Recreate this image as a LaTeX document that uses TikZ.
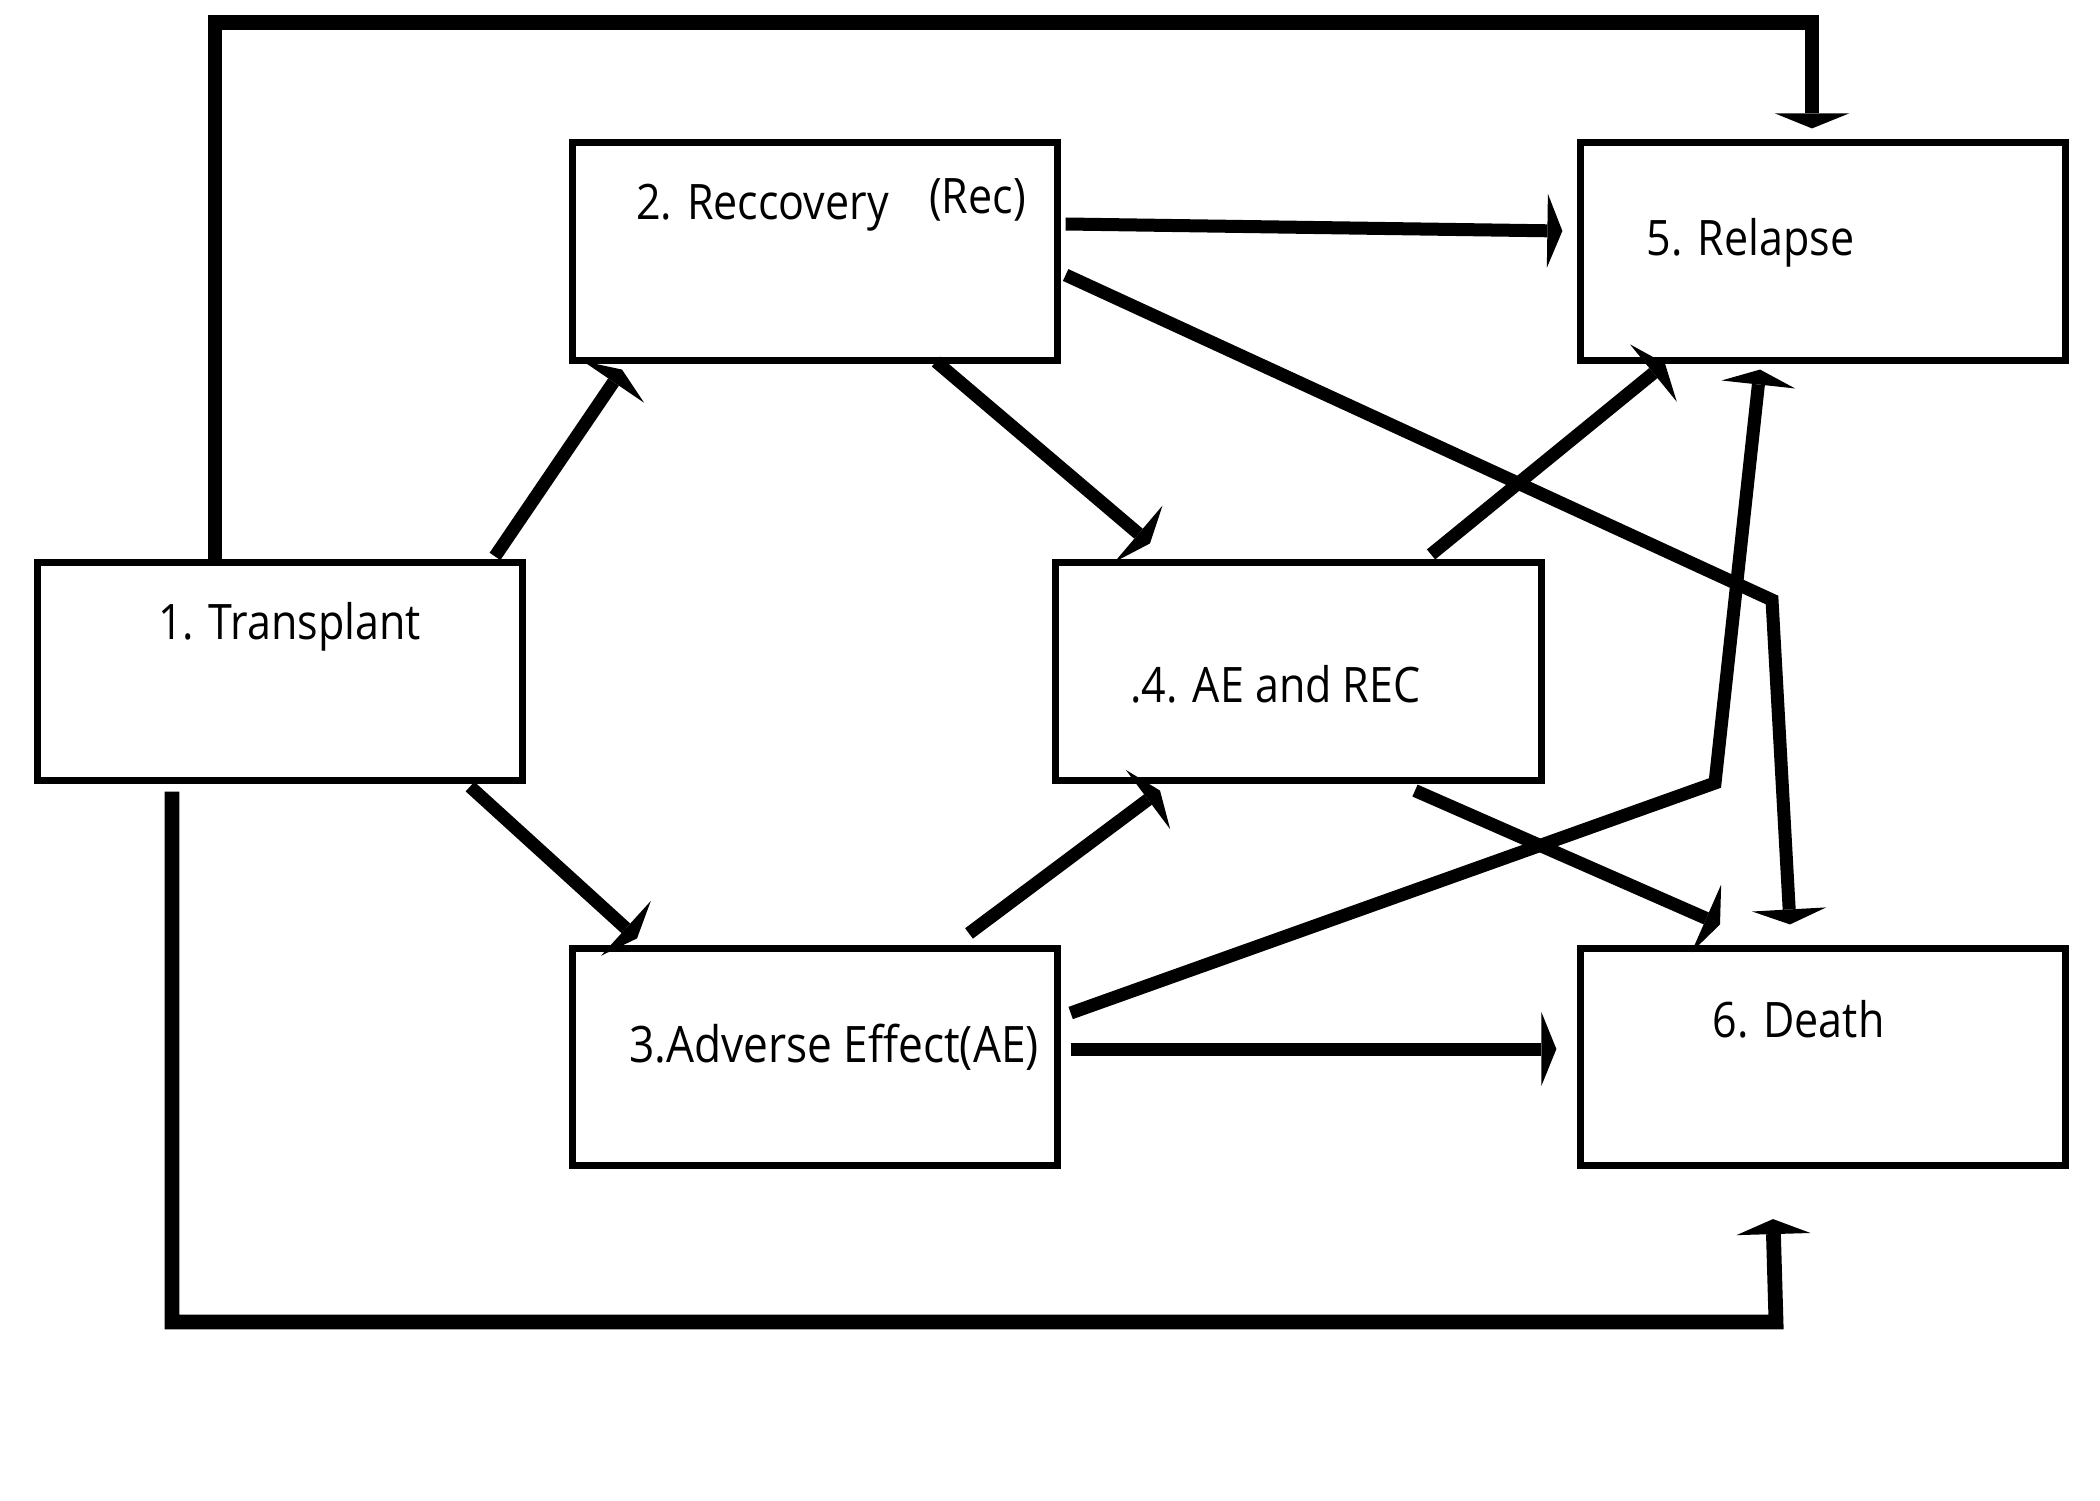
\documentclass[tikz,border=0pt]{standalone}
\usepackage{fontspec}
\setmainfont[FakeStretch=0.88]{Open Sans}
\usetikzlibrary{arrows.meta,calc}
\begin{document}
\begin{tikzpicture}[x=0.01cm,y=-0.01cm,
  box/.style={draw, line width=0.07cm, minimum width=4.85cm, minimum height=2.17cm, inner sep=0pt},
  lbl/.style={anchor=base, inner sep=0pt, font=\fontsize{13.9pt}{16pt}\selectfont},
  conn/.style={line width=0.13cm, -{Triangle[length=1.5mm,width=7.4mm,line width=0pt]}},
  bigloop/.style={conn, line width=0.148cm}]
\useasboundingbox (0,0) rectangle (2100,1500);
% boxes
\node[box] (T) at (280,671.5) {};
\node[box] (R) at (815,251.5) {};
\node[box] (A) at (815,1057) {};
\node[box] (B) at (1298.5,671.5) {};
\node[box] (L) at (1823,251.5) {};
\node[box] (D) at (1823,1057) {};
% labels
\node[lbl] (t1) at (289.5,639) {1. Transplant};
\node[lbl] (t2) at (762.5,219) {2. Reccovery};
\node[lbl] (t2b) at (977.5,213) {(Rec)};
\node[lbl, font=\fontsize{14.3pt}{16pt}\selectfont] (t3) at (834,1062) {3.Adverse Effect(AE)};
\node[lbl] (t4) at (1275.5,702) {.4. AE and REC};
\node[lbl] (t5) at (1750.5,255) {5. Relapse};
\node[lbl] (t6) at (1798.5,1037) {6. Death};
% bend points
\coordinate (rdbend) at (1772,600);
\coordinate (albend) at (1715,783);
% big loops
\draw[bigloop] ($(T.north)+(-65,0)$) |- ($(L.north)+(-11,-117)$) -- ($(L.north)+(-11,-11)$);
\draw[bigloop] ($(T.south)+(-108,8)$) |- ($(D.south)+(-47,153)$) -- ($(D.south)+(-50,50)$);
% connectors
\draw[conn] ($(T.north)+(215,-3)$) -- ($(R.south)+(-193,6)$);
\draw[conn] ($(T.south)+(190,3)$) -- ($(A.north)+(-178,-6.5)$);
\draw[conn] ($(R.east)+(4.5,-27.5)$) -- ($(L.west)+(-14.5,-20.5)$);
\draw[conn] ($(R.east)+(4.5,23.5)$) -- (rdbend) -- ($(D.north)+(-33,-20.5)$);
\draw[conn] ($(R.south)+(121,-2)$) -- ($(B.north)+(-148.5,-16)$);
\draw[conn] ($(A.north)+(154,-11.5)$) -- ($(B.south)+(-138.5,7)$);
\draw[conn] ($(B.north)+(132.5,-5)$) -- ($(L.south)+(-158,0)$);
\draw[conn] ($(A.east)+(9.5,-44)$) -- (albend) -- ($(L.south)+(-63,6)$);
\draw[conn] ($(B.south)+(116.5,7)$) -- ($(D.north)+(-103,-20.5)$);
\draw[conn] ($(A.east)+(9.5,-8)$) -- ($(D.west)+(-20.5,-8)$);
\end{tikzpicture}
\end{document}
